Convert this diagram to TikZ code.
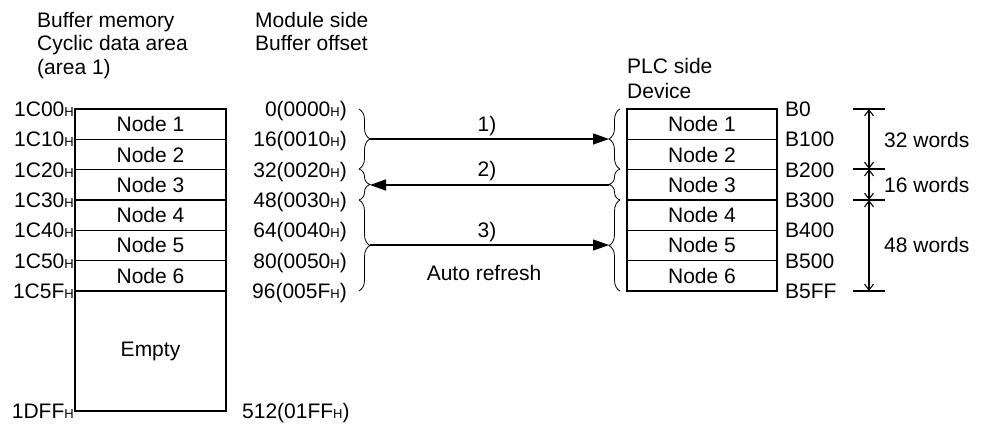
\documentclass[tikz,border=0pt]{standalone}
\usepackage{fontspec}
\setmainfont{Liberation Sans}
\usetikzlibrary{arrows.meta,decorations.pathreplacing}
\newcommand{\hsub}{{\fontsize{13}{13}\selectfont H}}
\tikzset{
	rowbox/.style = {draw, line width = 1.1pt, minimum width = 151pt, minimum height = 30.33pt, inner sep = 0pt},
	lbl/.style = {inner sep = 0pt, text height = 15pt, text depth = 0pt},
	brc/.style = {decorate, decoration = {brace, amplitude = 11pt}, line width = 0.8pt},
	flow/.style = {line width = 1.3pt, -{Triangle[length = 16pt, width = 11pt]}},
	dim/.style = {line width = 1.1pt, {Straight Barb[length = 6pt, width = 9pt]}-{Straight Barb[length = 6pt, width = 9pt]}}
}
\begin{document}
\begin{tikzpicture}[x = 1pt, y = -1pt, font = \fontsize{21}{25}\selectfont]
	\useasboundingbox (0,0) rectangle (984,424);
	% headings
	\node [lbl, anchor = west] (hbuf) at (37,20) {Buffer memory};
	\node [lbl, anchor = west] (hcyc) at (37,43) {Cyclic data area};
	\node [lbl, anchor = west] (harea) at (37,67) {(area 1)};
	\node [lbl, anchor = west] (hmod) at (255,20) {Module side};
	\node [lbl, anchor = west] (hoff) at (255,43) {Buffer offset};
	\node [lbl, anchor = west] (hplc) at (627,66) {PLC side};
	\node [lbl, anchor = west] (hdev) at (627,91) {Device};
	% buffer memory and device rows
	\foreach \i in {1,...,6} {
		\node [rowbox] (l\i) at (150.5, 109 + 30.33*\i - 15.17) {Node \i};
		\node [rowbox, minimum width = 150pt] (r\i) at (702, 109 + 30.33*\i - 15.17) {Node \i};
	}
	\node [rowbox, minimum height = 120pt] (lempty) at (150.5,351) {Empty};
	% addresses
	\foreach \a [count = \i from 0] in {1C00,1C10,1C20,1C30,1C40,1C50,1C5F}
		\node [lbl, anchor = east] (la\i) at (74, 109 + 30.33*\i) {\a\hsub};
	\node [lbl, anchor = east] (la7) at (74,411) {1DFF\hsub};
	\foreach \d/\h [count = \i from 0] in {0/0000,16/0010,32/0020,48/0030,64/0040,80/0050,96/005F}
		\node [lbl, anchor = east] (of\i) at (347, 109 + 30.33*\i) {\d(\h\hsub)};
	\node [lbl, anchor = west] (of7) at (242,411) {512(01FF\hsub)};
	\foreach \b [count = \i from 0] in {B0,B100,B200,B300,B400,B500,B5FF}
		\node [lbl, anchor = west] (dv\i) at (785, 109 + 30.33*\i) {\b};
	% braces
	\draw [brc] (359,109) -- (359,169);
	\draw [brc] (359,169) -- (359,200);
	\draw [brc] (359,200) -- (359,291);
	\draw [brc] (620,169) -- (620,109);
	\draw [brc] (620,200) -- (620,169);
	\draw [brc] (620,291) -- (620,200);
	\coordinate (a1) at (370,139);
	\coordinate (b1) at (609,139);
	\coordinate (a2) at (370,185);
	\coordinate (b2) at (609,185);
	\coordinate (a3) at (370,245);
	\coordinate (b3) at (609,245);
	\draw [flow] (a1) -- (b1);
	\draw [flow] (b2) -- (a2);
	\draw [flow] (a3) -- (b3);
	\node [lbl] (n1) at (487,124) {1)};
	\node [lbl] (n2) at (487,169) {2)};
	\node [lbl] (n3) at (487,230) {3)};
	\node [lbl] (auto) at (484,273) {Auto refresh};
	% word counts
	\foreach \y in {109,169,200,291}
		\draw [line width = 1.1pt] (853,\y) -- (885,\y);
	\coordinate (w0) at (869,109);
	\coordinate (w1) at (869,169);
	\coordinate (w2) at (869,200);
	\coordinate (w3) at (869,291);
	\draw [dim] (w0) -- (w1);
	\draw [dim] (w1) -- (w2);
	\draw [dim] (w2) -- (w3);
	\node [lbl, anchor = west] (c32) at (884,140) {32 words};
	\node [lbl, anchor = west] (c16) at (884,185) {16 words};
	\node [lbl, anchor = west] (c48) at (884,245) {48 words};
\end{tikzpicture}
\end{document}
